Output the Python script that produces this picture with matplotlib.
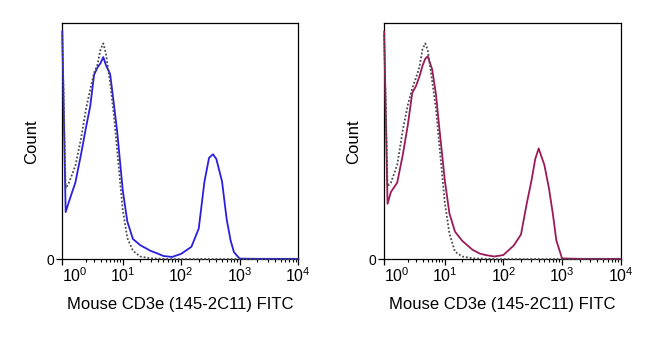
import matplotlib
matplotlib.use("Agg")
import matplotlib.pyplot as plt

plt.rcParams['font.family'] = ['Liberation Sans', 'DejaVu Sans']
plt.rcParams['mathtext.fontset'] = 'custom'
plt.rcParams['mathtext.rm'] = 'Liberation Sans'
plt.rcParams['mathtext.it'] = 'Liberation Sans'

# --- fluorescence channel values (FITC) where curves were read ---
fitc = [0, 0.25, 0.5, 1, 1.5, 2, 2.5, 3, 3.5, 4, 4.5, 5, 6, 7, 8, 10, 12, 15, 20,
        30, 40, 50, 70, 100, 150, 200, 250, 300, 350, 400, 500, 600, 700, 800,
        1000, 2000, 10000]

# --- counts, % of axis height ---
cd3_left = [96.5, 20, 24.5, 32.4, 44.3, 55.7, 65, 78.2, 81.3, 83.1, 85.7, 82.5, 78.5,
            65.7, 54, 29.2, 16, 8.6, 6, 3.6, 2.4, 1.4, 1.0, 2.3, 5.3, 13, 32.8, 43,
            44.5, 42.5, 33, 17, 8, 3, 0.3, 0.2, 0.2]
iso_left = [95, 30, 32.5, 39.5, 51, 63.5, 72, 79, 82.5, 89, 91.5, 87.5, 75, 61, 46,
            21, 9, 3.6, 1.2, 0.4, 0.3, 0.2, 0.1, 0.1, 0.1, 0.1, 0.1, 0.1, 0.1, 0.1,
            0.1, 0.1, 0.1, 0.1, 0.1, 0.1, 0.1]
cd3_right = [96.5, 23.5, 28.5, 32.5, 44.5, 57, 70.5, 73.5, 77.5, 82, 85, 86, 80.5,
             70, 56, 33.5, 19.5, 11.7, 7.8, 4, 2.4, 1.8, 1.2, 1.8, 5.8, 10.5, 23.5,
             33, 42.5, 47, 40, 30, 19, 8, 0.4, 0.2, 0.2]
iso_right = [95, 31, 32.5, 40, 55, 65.5, 72.5, 77, 81.5, 89, 91.5, 88.7, 75.5, 64,
             49, 24, 11, 3.2, 1.2, 0.4, 0.3, 0.2, 0.1, 0.1, 0.1, 0.1, 0.1, 0.1, 0.1,
             0.1, 0.1, 0.1, 0.1, 0.1, 0.1, 0.1, 0.1]

major_ticks = [0, 1, 10, 100, 1000, 10000]
major_labels = ['', '$10^0$', '$10^1$', '$10^2$', '$10^3$', '$10^4$']
minor_ticks = [m * d for d in (1, 10, 100, 1000) for m in range(2, 10)]

xlabel = 'Mouse CD3e (145-2C11) FITC'
ylabel = 'Count'

fig = plt.figure(figsize=(6.5, 3.43), dpi=100)

panels = [
    ([0.0958, 0.244, 0.363, 0.688], cd3_left, iso_left, '#2a1ee0'),
    ([0.591, 0.244, 0.364, 0.688], cd3_right, iso_right, '#9c1a5a'),
]

for rect, stained, isotype, col in panels:
    ax = fig.add_axes(rect)
    ax.set_xscale('asinh', linear_width=1.87)
    ax.plot(fitc, stained, color=col, lw=1.3, clip_on=False, zorder=3)
    ax.plot(fitc, isotype, color='#4a4a4a', lw=1.3, ls=(0, (1, 1.1)),
            clip_on=False, zorder=4)
    ax.set_xlim(0, 10000)
    ax.set_ylim(0, 100)

    ax.set_xticks(major_ticks, labels=major_labels)
    ax.set_xticks(minor_ticks, minor=True)
    ax.xaxis.get_major_ticks()[1].tick1line.set_visible(False)
    ax.set_yticks([0], labels=['0'])
    ax.tick_params(axis='x', which='major', direction='out', length=4,
                   width=0.9, labelsize=11.5, pad=1)
    ax.tick_params(axis='y', which='major', direction='out', length=4,
                   width=0.9, labelsize=10, pad=2)
    ax.tick_params(axis='x', which='minor', direction='out', length=2.2, width=0.8)
    for s in ax.spines.values():
        s.set_linewidth(0.9)

    ax.set_xlabel(xlabel, fontsize=12, labelpad=9)
    ax.set_ylabel(ylabel, fontsize=12, labelpad=5)

fig.savefig('out.png', dpi=100)
